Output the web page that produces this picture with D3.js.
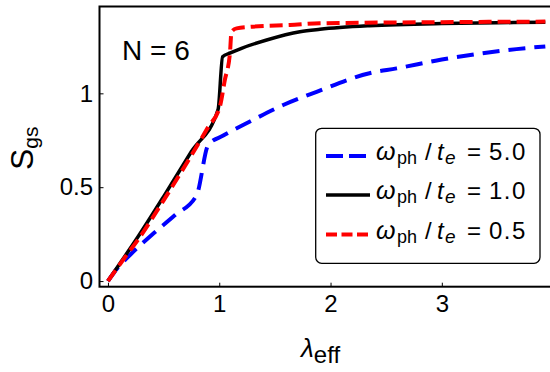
<!DOCTYPE html>
<html>
<head>
<meta charset="utf-8">
<script src="https://cdn.jsdelivr.net/npm/d3@7"></script>
<style>
  body { margin: 0; background: #fff; }
  svg text { font-family: "Liberation Sans", Arial, sans-serif; fill: #000; }
</style>
</head>
<body>
<div id="chart"></div>
<script>
// data
var lamBlue = [0, 0.06, 0.213, 0.393, 0.6, 0.797, 0.901, 1.036, 1.276, 1.575, 1.875, 2.35, 2.594, 3.0, 3.58, 3.93];
var sBlue   = [0, 0.05, 0.148, 0.245, 0.35, 0.458, 0.725, 0.775, 0.85, 0.938, 1.008, 1.107, 1.133, 1.18, 1.23, 1.25];

var lamBlack = [0, 0.063, 0.258, 0.5, 0.75, 0.99, 1.03, 1.1, 1.2, 1.426, 1.725, 1.905, 2.35, 3.0, 3.5, 3.93];
var sBlack   = [0, 0.055, 0.225, 0.45, 0.69, 0.915, 1.195, 1.215, 1.24, 1.284, 1.328, 1.341, 1.36, 1.372, 1.376, 1.378];

var lamRed = [0, 0.168, 0.258, 0.5, 0.75, 0.9, 1.006, 1.05, 1.096, 1.11, 1.156, 1.3, 1.635, 1.905, 2.5, 3.0, 3.5, 3.93];
var sRed   = [0, 0.139, 0.21, 0.43, 0.67, 0.82, 0.93, 1.07, 1.213, 1.328, 1.346, 1.355, 1.364, 1.373, 1.377, 1.379, 1.381, 1.382];

var xTicks = [0, 1, 2, 3];
var yTicks = [0, 0.5, 1];
var yTickLabels = ["0", "0.5", "1"];

var seriesNames = ["5.0", "1.0", "0.5"];
var seriesColors = ["#0000ff", "#000000", "#ff0000"];

var series = [
    { lam: lamBlue, s: sBlue, dash: "17,9", legDash: "17,6", width: 4 },
    { lam: lamBlack, s: sBlack, dash: null, legDash: null, width: 3.5 },
    { lam: lamRed, s: sRed, dash: "13,6", legDash: "11,4.5", width: 4 }
];

var W = 550, H = 372;
var plot = { left: 99.5, right: 552, top: 6.5, bottom: 286.7 };

var svg = d3.select("#chart").append("svg")
    .attr("width", W)
    .attr("height", H);

var x = d3.scaleLinear().domain([-0.076, 3.99]).range([plot.left, plot.right]);
var y = d3.scaleLinear().domain([-0.03, 1.4625]).range([plot.bottom, plot.top]);

// frame
svg.append("rect")
    .attr("x", plot.left).attr("y", plot.top)
    .attr("width", plot.right - plot.left).attr("height", plot.bottom - plot.top)
    .attr("fill", "none").attr("stroke", "#000").attr("stroke-width", 2);

// axes with inside ticks
var xAxis = svg.append("g")
    .attr("transform", "translate(0," + plot.bottom + ")")
    .call(d3.axisBottom(x).tickValues(xTicks).tickFormat(d3.format("d"))
        .tickSizeInner(-4).tickSizeOuter(0).tickPadding(8.3));
var yAxis = svg.append("g")
    .attr("transform", "translate(" + plot.left + ",0)")
    .call(d3.axisLeft(y).tickValues(yTicks).tickFormat(function (d, i) { return yTickLabels[i]; })
        .tickSizeInner(-4).tickSizeOuter(0).tickPadding(6.5));

[xAxis, yAxis].forEach(function (g) {
    g.select(".domain").remove();
    g.selectAll("line").attr("stroke", "#000").attr("stroke-width", 1);
    g.selectAll("text").attr("font-size", 24).attr("font-family", "Liberation Sans, Arial, sans-serif").attr("fill", "#000");
});

// curves
var line = d3.line()
    .curve(d3.curveMonotoneX)
    .x(function (d) { return x(d[0]); })
    .y(function (d) { return y(d[1]); });

svg.append("defs").append("clipPath").attr("id", "clip")
    .append("rect")
    .attr("x", plot.left).attr("y", plot.top)
    .attr("width", plot.right - plot.left).attr("height", plot.bottom - plot.top);

var curves = svg.append("g").attr("clip-path", "url(#clip)");
series.forEach(function (sr, i) {
    var pts = sr.lam.map(function (l, j) { return [l, sr.s[j]]; });
    curves.append("path")
        .datum(pts)
        .attr("d", line)
        .attr("fill", "none")
        .attr("stroke", seriesColors[i])
        .attr("stroke-width", sr.width)
        .attr("stroke-dasharray", sr.dash)
        .attr("stroke-linejoin", "round");
});

// N = 6
svg.append("text")
    .attr("x", 122).attr("y", 60)
    .attr("font-size", 28)
    .text("N = 6");

// axis labels
var ylab = svg.append("text")
    .attr("transform", "translate(33,170) rotate(-90)")
    .attr("font-size", 32);
ylab.append("tspan").text("S");
ylab.append("tspan").attr("font-size", 21).attr("dy", 5).text("gs");

var xlab = svg.append("text")
    .attr("x", 301).attr("y", 357)
    .attr("font-size", 26);
xlab.append("tspan").attr("font-style", "italic").text("λ");
xlab.append("tspan").attr("font-size", 24).attr("dy", 6).text("eff");

// legend
var leg = svg.append("g");
leg.append("rect")
    .attr("x", 315.7).attr("y", 128.3)
    .attr("width", 224.3).attr("height", 135)
    .attr("rx", 6).attr("ry", 6)
    .attr("fill", "#fff").attr("stroke", "#000").attr("stroke-width", 1.3);

var rowBase = [160, 199, 238.5];
seriesNames.forEach(function (name, i) {
    var by = rowBase[i];
    leg.append("line")
        .attr("x1", 326).attr("x2", 370)
        .attr("y1", by - 4).attr("y2", by - 4)
        .attr("stroke", seriesColors[i])
        .attr("stroke-width", series[i].width)
        .attr("stroke-dasharray", series[i].legDash);
    var t = leg.append("text").attr("y", by).attr("font-size", 24);
    t.append("tspan").attr("x", 376).attr("font-style", "italic").attr("font-size", 25).text("ω");
    t.append("tspan").attr("x", 397).attr("font-size", 18).attr("dy", 4).text("ph");
    t.append("tspan").attr("x", 425).attr("dy", -4).text("/");
    t.append("tspan").attr("x", 437).attr("font-style", "italic").text("t");
    t.append("tspan").attr("x", 445).attr("font-style", "italic").attr("font-size", 19).attr("dy", 4).text("e");
    t.append("tspan").attr("x", 467).attr("dy", -4).text("=");
    t.append("tspan").attr("x", 489).attr("letter-spacing", 1.5).text(name);
});
</script>
</body>
</html>
